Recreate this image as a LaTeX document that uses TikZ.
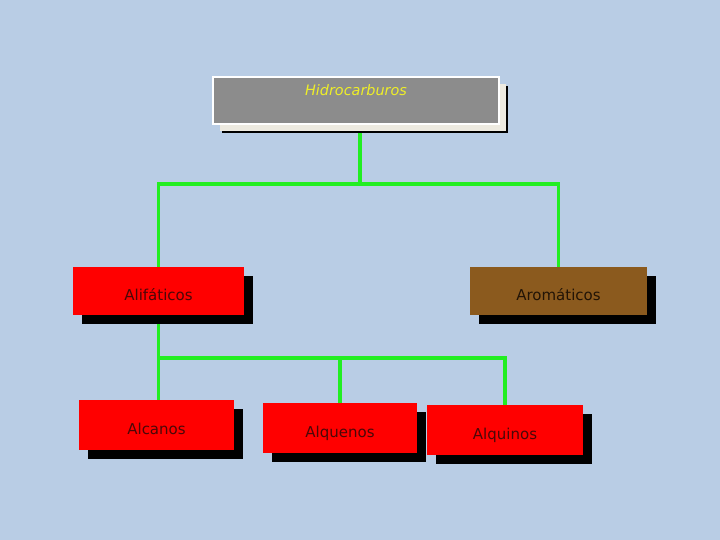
\documentclass[tikz,border=0pt]{standalone}
\usepackage{fontspec}
\setmainfont{DejaVu Sans}
\usetikzlibrary{shadows}
\definecolor{fondo}{HTML}{B9CDE5}
\definecolor{verde}{HTML}{22EE22}
\definecolor{rojo}{HTML}{FF0000}
\definecolor{cafe}{HTML}{8B5A1E}
\definecolor{gris}{HTML}{8C8C8C}
\definecolor{crema}{HTML}{EDEAE0}
\definecolor{amarillo}{HTML}{EEEE28}
\definecolor{textorojo}{HTML}{4A0808}
\definecolor{textocafe}{HTML}{221406}
\pgfdeclarelayer{capafondo}
\pgfdeclarelayer{lineas}
\pgfsetlayers{capafondo,lineas,main}
\begin{document}
\begin{tikzpicture}[x=0.03cm,y=-0.03cm,
    caja/.style={draw=none,inner sep=0pt,font=\fontsize{12.8}{14}\selectfont,
      text height=29pt,text depth=12pt,
      drop shadow={shadow xshift=7.7pt,shadow yshift=-7.7pt,fill=black,opacity=1}},
    conn/.style={verde,line width=2.8pt}]
  \begin{pgfonlayer}{capafondo}
    \useasboundingbox[fill=fondo] (0,0) rectangle (720,540);
  \end{pgfonlayer}
  % raiz
  \node[caja,fill=gris,draw=white,line width=1.4pt,
    drop shadow={shadow xshift=6pt,shadow yshift=-6pt,fill=crema,opacity=1},
    minimum width=244pt,minimum height=40pt,
    text height=15.4pt,text depth=24.6pt,
    font=\fontsize{12.3}{14}\selectfont\itshape,text=amarillo] (hidro) at (356,100.5) {Hidrocarburos};
  % segundo nivel
  \node[caja,fill=rojo,text=textorojo,minimum width=146pt,minimum height=41pt] (alif) at (158.5,291) {Alifáticos};
  \node[caja,fill=cafe,text=textocafe,minimum width=151pt,minimum height=41pt] (arom) at (558.5,291) {Aromáticos};
  % tercer nivel
  \node[caja,fill=rojo,text=textorojo,minimum width=132pt,minimum height=42pt] (alcanos) at (156.5,425) {Alcanos};
  \node[caja,fill=rojo,text=textorojo,minimum width=132pt,minimum height=42pt] (alquenos) at (340,428) {Alquenos};
  \node[caja,fill=rojo,text=textorojo,minimum width=133pt,minimum height=42pt] (alquinos) at (505,430) {Alquinos};
  \coordinate (arriba) at (360,184);
  \coordinate (medio) at (158,358);
  \begin{pgfonlayer}{lineas}
    \draw[conn] (hidro.south -| arriba) -- (arriba);
    \draw[conn] (alif.north) |- (arriba) -| (arom.north);
    \draw[conn] (alif.south) -- (alif.south |- alcanos.north);
    \draw[conn] (medio) -| (alquenos.north);
    \draw[conn] (medio) -| (alquinos.north);
  \end{pgfonlayer}
\end{tikzpicture}
\end{document}
